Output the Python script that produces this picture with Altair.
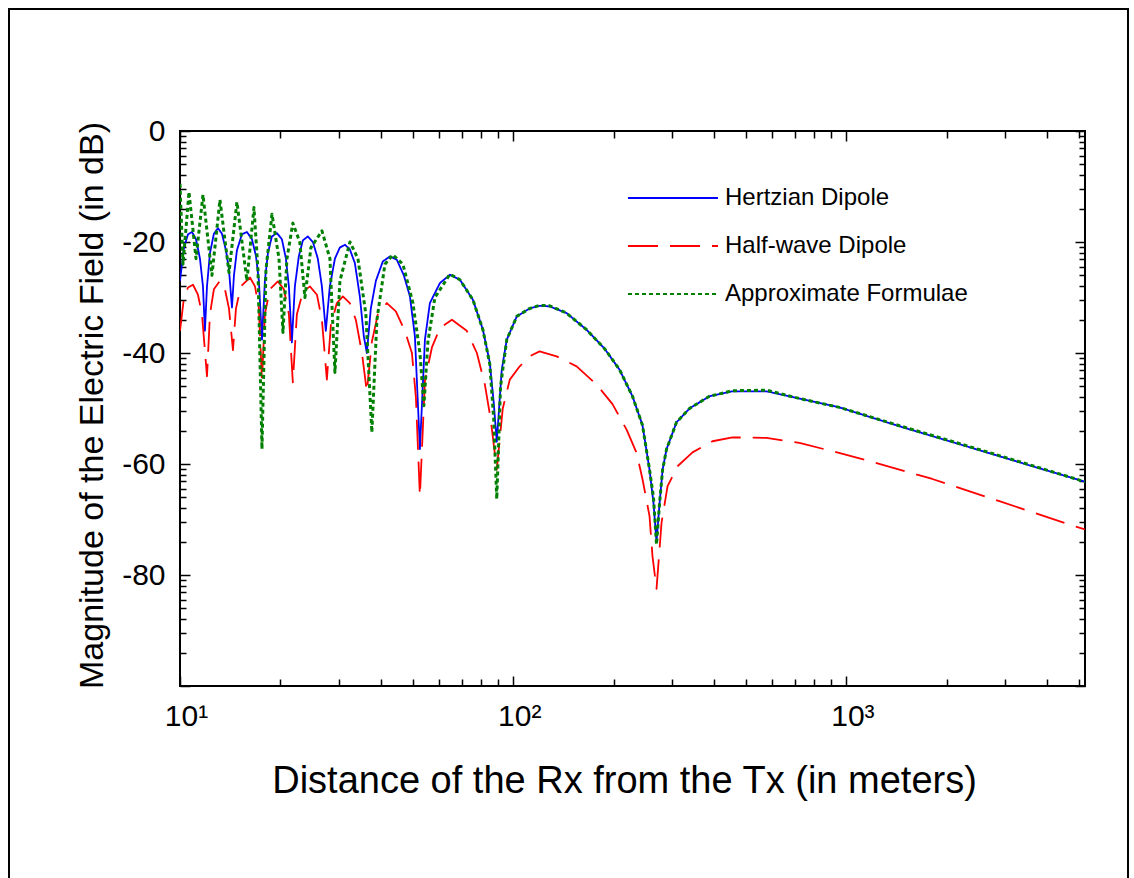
import altair as alt
import pandas as pd
import numpy as np

# ---------------- data ----------------
series_names = ["Hertzian Dipole", "Half-wave Dipole", "Approximate Formulae"]
series_colors = ["#0000ff", "#ff0000", "#008000"]
series_dashes = [[1, 0], [30, 12], [4, 3]]

hertz_d = [10.0, 10.28, 10.57, 10.86, 11.17, 11.48, 11.72, 11.88,
           12.05, 12.30, 12.64, 13.00, 13.36, 13.74, 14.03, 14.32,
           14.52, 14.82, 15.34, 15.88, 16.44, 16.90, 17.25, 17.62,
           17.98, 18.36, 18.87, 19.54, 20.22, 20.79, 21.22, 21.66,
           22.12, 22.74, 23.38, 24.19, 25.05, 25.92, 26.66, 27.39,
           28.16, 29.17, 30.18, 31.26, 32.33, 33.48, 34.65, 35.62, 36.37,
           37.38, 38.71, 40.62, 42.66, 44.74, 46.96, 48.98, 50.70, 52.48,
           54.33, 56.23, 60.26, 64.57, 69.18, 75.68, 81.1, 85.05, 87.42, 89.26,
           92.39, 95.64, 102.5, 111.9, 120.0, 128.6, 144.5, 166.0, 187.9, 208.5,
           228.0, 244.3, 256.5, 263.6, 269.2, 275.0, 280.8, 288.6, 309.0, 338.0,
           388.0, 455.0, 575.6, 722.5, 953.0, 1442.0, 2291.0, 3616.0, 5200.0]
hertz_db = [-27, -21, -18.6, -18.2, -19.5, -23, -28, -36,
            -28, -22, -18.5, -17.5, -18.5, -21.5, -25, -31.8,
            -26, -21.5, -18.6, -18.2, -19.5, -22.5, -27, -37.6,
            -27, -22, -19, -18.4, -19.5, -23, -28, -38.1,
            -28, -22.5, -19.7, -19, -20, -23, -28, -36,
            -28, -23, -21, -20.5, -21.3, -23.8, -29.8, -37, -40,
            -32, -27, -23.5, -22.6, -23.2, -26, -29.8, -37, -57.3,
            -37.6, -31, -27.4, -25.9, -26.8, -30.4, -35.8, -41.7, -49, -56,
            -43, -37.6, -33.4, -32, -31.5, -31.6, -32.8, -35.8, -39.2, -43,
            -47.8, -53, -61, -67, -74, -67, -61, -57.3, -52.5, -50,
            -47.8, -46.9, -46.9, -48.2, -49.8, -53.2, -56.8, -60.4, -63.2]

half_d = [10.0, 10.28, 10.57, 10.94, 11.32, 11.64, 12.05,
          12.30, 12.64, 13.18, 13.64, 14.03, 14.42,
          14.72, 15.23, 16.22, 16.79, 17.25, 17.62,
          17.98, 18.61, 19.67, 20.50, 21.22, 21.81,
          22.43, 23.38, 24.53, 25.76, 26.66, 27.59,
          28.36, 29.56, 30.82, 32.33, 33.70, 35.16, 36.37,
          37.65, 39.25, 41.76, 44.44, 47.30, 49.66, 51.05, 52.48,
          54.33, 57.02, 60.26, 65.46, 72.56, 77.8, 82.22, 85.62, 89.26, 93.03, 97.67,
          104.6, 112.0, 120.0, 135.0, 155.0, 178.0, 198.6, 218.9, 234.5, 244.3, 256.5,
          261.8, 269.2, 278.8, 290.6, 311.3, 345.2, 396.3, 455.0, 575.6, 722.5, 907.9,
          1148.0, 1811.0, 2877.0, 4730.0, 5200.0]
half_db = [-36, -30, -28.2, -27.7, -29.5, -33, -44.2,
           -33, -28.5, -27, -28.5, -32, -39.5,
           -32, -28, -26.4, -28, -32, -45,
           -33, -28.5, -27.1, -28.5, -33, -45.3,
           -33, -29, -28, -29.5, -34, -44.8,
           -35, -31, -29.8, -31, -34, -40, -47,
           -38, -33, -31, -32.5, -36, -40, -48, -65.8,
           -45, -39, -35.5, -34, -36, -40, -45.7, -52, -61, -50, -44.8,
           -42.4, -40.6, -39.7, -40.6, -42.4, -45.7, -49.2, -53.8, -58, -62.7, -69.4,
           -76.6, -82.5, -70.5, -64, -60.4, -57.9, -55.9, -55.2, -55.3, -56.2, -57.7,
           -59.3, -62.7, -66.7, -71, -71.8]

approx_d = [10.0, 10.21, 10.64, 11.17, 11.72, 12.47, 13.18, 14.03, 14.82, 15.88, 16.67, 17.14,
            17.62, 18.11, 18.88, 19.82, 20.37, 20.94, 21.81, 22.88, 23.71, 24.71, 26.67, 28.18,
            29.17, 30.2, 32.36, 34.2, 36.12, 37.65, 38.99, 41.21, 43.55, 46.67, 50.0, 52.48,
            53.95, 55.46, 58.21, 64.57, 69.18, 75.68, 81.1, 85.05, 87.42, 89.26, 91.62, 95.64,
            102.5, 111.9, 120.0, 128.6, 144.5, 166.0, 187.9, 208.5, 228.0, 244.3, 256.5, 263.6,
            269.2, 275.0, 280.8, 288.6, 309.0, 338.0, 388.0, 455.0, 575.6, 722.5, 953.0,
            1442.0, 2291.0, 3616.0, 5200.0]
approx_db = [-9.5, -24, -11, -23, -11.5, -26, -12.4, -25.5, -12.8, -27, -13.8, -25,
             -57.3, -25, -15, -23, -36.3, -23, -16.6, -20, -30, -21, -18, -23,
             -43.5, -27, -20, -23, -33, -54.3, -34, -24, -22.3, -24, -31, -40,
             -49.5, -38, -30, -25.8, -26.8, -30.4, -35.8, -42, -52, -66.3, -46, -37.6,
             -33.4, -32, -31.4, -31.5, -32.8, -35.8, -39.2, -43, -47.8, -53, -61, -66,
             -74.5, -67, -61, -57.3, -52.5, -50, -47.8, -46.8, -46.7, -48.2, -49.8,
             -53.1, -56.7, -60.3, -63.2]

# tick labels
x_label_values = [10, 100, 1000]
y_label_values = [-80, -60, -40, -20, 0]

df = pd.concat([
    pd.DataFrame({"distance": hertz_d, "db": hertz_db, "series": series_names[0]}),
    pd.DataFrame({"distance": half_d, "db": half_db, "series": series_names[1]}),
    pd.DataFrame({"distance": approx_d, "db": approx_db, "series": series_names[2]}),
], ignore_index=True)

# ---------------- layout ----------------
W, H = 905, 555
FONT = "Liberation Sans"

x_scale = alt.Scale(type="log", domain=[10, 5200], nice=False)
y_scale = alt.Scale(domain=[-100, 0], nice=False)

# tick positions (axis decoration)
x_ticks = [k * 10 ** e for e in (1, 2, 3) for k in range(1, 10) if k * 10 ** e <= 5200]
y_major = [-100, -80, -60, -40, -20, 0]
y_ticks = sorted(y_major + [float(b + 20 * np.log10(k)) for b in y_major[:-1] for k in range(2, 10)])

x_tick_size = {"condition": {"test": "indexof([10,100,1000], datum.value) >= 0", "value": 10}, "value": 7}
y_tick_size = {"condition": {"test": "abs(datum.value % 20) < 0.001", "value": 10}, "value": 6}

label_expr = "datum.value == 10 ? '10\u00b9' : (datum.value == 100 ? '10\u00b2' : '10\u00b3')"

legend_kw = dict(title=None, orient="none", legendX=481, legendY=55,
                 symbolType="M-5,0H5", symbolSize=324, symbolStrokeWidth=2,
                 labelFontSize=24, labelFont=FONT, labelColor="black", labelLimit=0,
                 labelOffset=40, rowPadding=24, padding=0)

lines = alt.Chart(df).mark_line(clip=True, strokeJoin="round").encode(
    x=alt.X("distance:Q", scale=x_scale,
            axis=alt.Axis(values=x_label_values, labelExpr=label_expr, ticks=False, tickSize=0,
                          domain=False, grid=False, labelFontSize=30, labelPadding=15,
                          labelOffset=6, labelFlush=False,
                          title="Distance of the Rx from the Tx (in meters)",
                          titleFontSize=38, titleFontWeight="normal",
                          titleX=444, titleY=106, titleBaseline="alphabetic", titleAlign="center")),
    y=alt.Y("db:Q", scale=y_scale,
            axis=alt.Axis(values=y_label_values, labelExpr="toString(datum.value)",
                          ticks=False, tickSize=0, domain=False, grid=False,
                          labelFontSize=30, labelPadding=15, labelFlush=False,
                          title="Magnitude of the Electric Field (in dB)",
                          titleFontSize=34, titleFontWeight="normal",
                          titleX=-78, titleY=274, titleBaseline="alphabetic", titleAlign="center",
                          titleAngle=270)),
    color=alt.Color("series:N", scale=alt.Scale(domain=series_names, range=series_colors),
                    legend=alt.Legend(**legend_kw)),
    strokeDash=alt.StrokeDash("series:N", scale=alt.Scale(domain=series_names, range=series_dashes),
                              legend=alt.Legend(**legend_kw)),
    strokeWidth=alt.condition(alt.datum.series == "Approximate Formulae", alt.value(3), alt.value(1.8)),
)

ticks_a = alt.Chart(df).mark_point(opacity=0, size=1).encode(
    x=alt.X("distance:Q", scale=x_scale,
            axis=alt.Axis(orient="top", offset=-H, values=x_ticks, labels=False, domain=False,
                          grid=False, title=None, tickSize=x_tick_size, tickColor="black", tickWidth=1.5)),
    y=alt.Y("db:Q", scale=y_scale,
            axis=alt.Axis(orient="right", offset=-W, values=y_ticks, labels=False, domain=False,
                          grid=False, title=None, tickSize=y_tick_size, tickColor="black", tickWidth=1.5)),
)

ticks_b = alt.Chart(df).mark_point(opacity=0, size=1).encode(
    x=alt.X("distance:Q", scale=x_scale,
            axis=alt.Axis(orient="bottom", offset=-H, values=x_ticks, labels=False, domain=False,
                          grid=False, title=None, tickSize=x_tick_size, tickColor="black", tickWidth=1.5)),
    y=alt.Y("db:Q", scale=y_scale,
            axis=alt.Axis(orient="left", offset=-W, values=y_ticks, labels=False, domain=False,
                          grid=False, title=None, tickSize=y_tick_size, tickColor="black", tickWidth=1.5)),
)

frame = alt.Chart(pd.DataFrame({"f": [0]})).mark_rect(
    fillOpacity=0, stroke="black", strokeWidth=2, clip=False
).encode(x=alt.value(-171), x2=alt.value(948), y=alt.value(-122), y2=alt.value(760))

chart = alt.layer(lines, ticks_a, ticks_b, frame).resolve_axis(
    x="independent", y="independent"
).properties(
    width=W, height=H,
    padding={"left": 180, "top": 131, "right": 49, "bottom": 192},
    autosize=alt.AutoSizeParams(type="none"),
    background="white",
).configure_view(
    stroke="black", strokeWidth=2
).configure_axis(
    labelFont=FONT, titleFont=FONT, labelColor="black", titleColor="black"
).configure_legend(
    labelFont=FONT
)

chart.save("out.html", embed_options={"renderer": "svg", "actions": False})
